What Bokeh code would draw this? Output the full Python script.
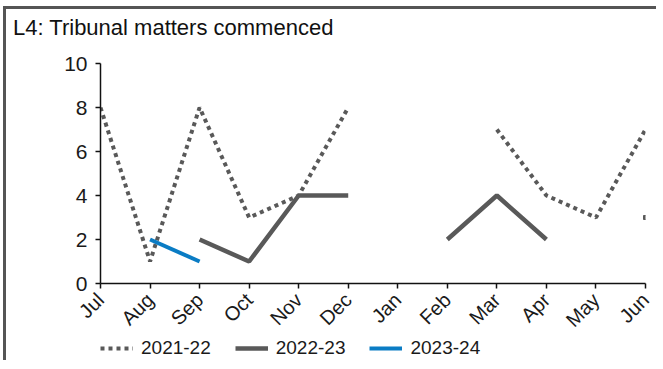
import math
from bokeh.plotting import figure
from bokeh.layouts import column
from bokeh.models import FixedTicker, Legend, LegendItem, Range1d, ColumnDataSource, Div
from bokeh.embed import file_html
from bokeh.resources import INLINE

nan = float("nan")

# ---- data ----
months = ["Jul", "Aug", "Sep", "Oct", "Nov", "Dec", "Jan", "Feb", "Mar", "Apr", "May", "Jun"]
s2021_22 = [8, 1, 8, 3, 4, 8, nan, nan, 7, 4, 3, 7]
s2022_23 = [nan, nan, 2, 1, 4, 4, nan, 2, 4, 2, nan, nan]
s2023_24 = [nan, 2, 1, nan, nan, nan, nan, nan, nan, nan, nan, nan]
s_jun_dot = [nan, nan, nan, nan, nan, nan, nan, nan, nan, nan, nan, 3]
y_ticks = [0, 2, 4, 6, 8, 10]
title_text = "L4: Tribunal matters commenced"
series_labels = ["2021-22", "2022-23", "2023-24"]

x_idx = list(range(len(months)))
src = ColumnDataSource(dict(x=x_idx, a=s2021_22, b=s2022_23, c=s2023_24, d=s_jun_dot))

GRAY = "#595959"
BLUE = "#0a7cc4"
FONT = "Liberation Sans"
W = 650

# ---- title ----
head = Div(text=title_text, width=643, height=40, margin=0,
           styles={"font-family": FONT, "font-size": "22px", "color": "#111111",
                   "padding-left": "7px", "line-height": "37px", "white-space": "nowrap"})

# ---- chart ----
p = figure(frame_width=545, frame_height=220, title=None, output_backend="svg", toolbar_location=None,
           x_range=Range1d(0, len(months) - 1), y_range=Range1d(0, 10),
           min_border_left=94, min_border_right=11, min_border_top=14, min_border_bottom=0)
p.outline_line_color = None
p.xgrid.visible = False
p.ygrid.visible = False

r1 = p.line("x", "a", source=src, line_color=GRAY, line_width=4, line_dash="4 4", line_cap="butt")
r2 = p.line("x", "b", source=src, line_color=GRAY, line_width=4.5, line_cap="butt")
r3 = p.line("x", "c", source=src, line_color=BLUE, line_width=4, line_cap="butt")
p.scatter("x", "d", source=src, marker="square", size=4, color=GRAY)

for ax in (p.xaxis[0], p.yaxis[0]):
    ax.axis_line_color = "#111111"
    ax.axis_line_width = 1.5
    ax.major_tick_line_color = "#111111"
    ax.major_tick_line_width = 1.5
    ax.major_tick_out = 5
    ax.major_tick_in = 0
    ax.minor_tick_line_color = None
    ax.major_label_text_font = FONT
    ax.major_label_text_color = "#1a1a1a"

p.yaxis.ticker = FixedTicker(ticks=y_ticks)
p.yaxis.major_label_text_font_size = "21px"
p.yaxis.major_label_standoff = 8

p.xaxis.ticker = FixedTicker(ticks=x_idx)
p.xaxis.major_label_overrides = {i: m for i, m in enumerate(months)}
p.xaxis.major_label_orientation = math.pi / 4
p.xaxis.major_label_text_font_size = "20px"
p.xaxis.major_label_standoff = 8

# ---- legend strip (same series, legend only) ----
leg = figure(width=W, height=24, title=None, output_backend="svg", toolbar_location=None,
             x_axis_type=None, y_axis_type=None, min_border=0,
             x_range=Range1d(100, 101), y_range=Range1d(0, 1))
leg.outline_line_color = None
leg.xgrid.visible = False
leg.ygrid.visible = False
l1 = leg.line("x", "a", source=src, line_color=GRAY, line_width=4, line_dash="4 4", line_cap="butt")
l2 = leg.line("x", "b", source=src, line_color=GRAY, line_width=4.5, line_cap="butt")
l3 = leg.line("x", "c", source=src, line_color=BLUE, line_width=4, line_cap="butt")
legend = Legend(items=[LegendItem(label=series_labels[0], renderers=[l1]),
                       LegendItem(label=series_labels[1], renderers=[l2]),
                       LegendItem(label=series_labels[2], renderers=[l3])],
                location=(0, 1), orientation="horizontal",
                glyph_width=33, glyph_height=20, label_standoff=8, spacing=24,
                padding=0, margin=0, border_line_color=None, background_fill_alpha=0,
                label_text_font=FONT, label_text_font_size="19px", label_text_color="#1a1a1a")
leg.add_layout(legend, "center")
leg.styles = {"margin-top": "-5px"}

page = column(head, p, leg, spacing=0)
page.styles = {"margin-left": "3px", "margin-top": "6px",
               "border-top": "3px solid #555555", "border-left": "3px solid #555555"}

open("out.html", "w").write(file_html(page, INLINE))
